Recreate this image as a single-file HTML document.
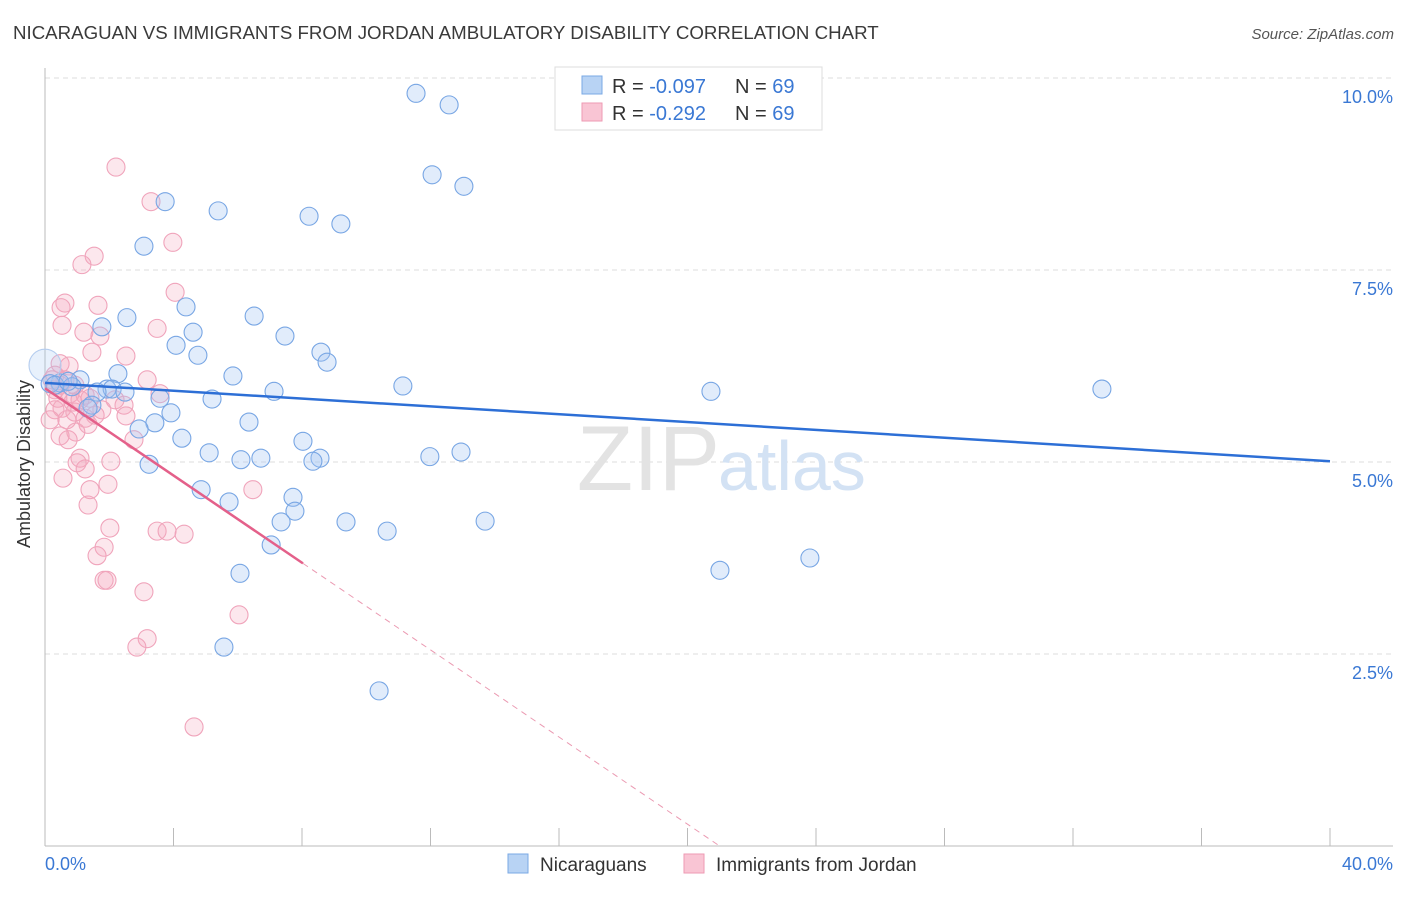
<!DOCTYPE html>
<html><head><meta charset="utf-8"><style>
body{margin:0;background:#fff;font-family:"Liberation Sans",sans-serif;}
svg text{font-family:"Liberation Sans",sans-serif;}
</style></head><body>
<svg width="1406" height="892" viewBox="0 0 1406 892">
<text x="13" y="39" font-size="18.7" fill="#3a3a3a">NICARAGUAN VS IMMIGRANTS FROM JORDAN AMBULATORY DISABILITY CORRELATION CHART</text>
<text x="1394" y="39" font-size="15" fill="#555" font-style="italic" text-anchor="end">Source: ZipAtlas.com</text>
<g id="grid"></g>
<text x="720" y="490" font-size="92" fill="#e3e3e3" text-anchor="end" font-family="Liberation Serif">ZIP</text>
<text x="718" y="490" font-size="70" fill="#d3e2f4">atlas</text>
<g id="pts"></g>
<g id="trend"></g>
<text x="22" y="456" font-size="18" fill="#333" transform="rotate(-90 30 456)" text-anchor="middle">Ambulatory Disability</text>
<text x="45" y="870" font-size="18" fill="#3a78d4">0.0%</text>
<text x="1393" y="870" font-size="18" fill="#3a78d4" text-anchor="end">40.0%</text>
<g>
<rect x="555" y="67" width="267" height="63" fill="#fff" stroke="#ddd"/>
<rect x="582" y="76" width="20" height="18" fill="#b8d3f4" stroke="#7aa8e4"/>
<rect x="582" y="103" width="20" height="18" fill="#f9c5d4" stroke="#ee9ab3"/>
<text x="612" y="93" font-size="20" fill="#333">R = <tspan fill="#3a78d4">-0.097</tspan><tspan x="735">N = </tspan><tspan fill="#3a78d4">69</tspan></text>
<text x="612" y="120" font-size="20" fill="#333">R = <tspan fill="#3a78d4"> -0.292</tspan><tspan x="735">N = </tspan><tspan fill="#3a78d4">69</tspan></text>
</g>
<g>
<rect x="508" y="854" width="20" height="19" fill="#b8d3f4" stroke="#7aa8e4"/>
<text x="540" y="871" font-size="19" fill="#333">Nicaraguans</text>
<rect x="684" y="854" width="20" height="19" fill="#f9c5d4" stroke="#ee9ab3"/>
<text x="716" y="871" font-size="19" fill="#333">Immigrants from Jordan</text>
</g>
</svg>
<script>
const yTicks=[2.5,5.0,7.5,10.0];
const xTicks=[0,4,8,12,16,20,24,28,32,36,40];
const blueX=[11.55,12.58,12.05,13.04,3.74,5.39,8.22,9.21,3.08,4.39,6.51,2.55,1.77,4.61,7.47,4.08,4.76,8.59,8.78,5.85,2.27,11.14,20.73,32.90,7.13,1.09,0.47,0.84,1.93,2.09,2.49,1.62,3.58,5.20,1.46,1.34,3.92,3.42,6.35,2.93,4.26,8.03,12.95,5.11,11.98,6.10,6.72,8.56,8.34,3.24,4.86,7.72,5.73,7.78,7.35,9.37,13.70,10.65,7.04,23.81,21.01,6.07,5.57,10.40,0,0.16,0.31,0.72];
const blueY=[9.80,9.65,8.74,8.59,8.39,8.27,8.20,8.10,7.81,7.02,6.90,6.88,6.76,6.69,6.64,6.52,6.39,6.43,6.30,6.12,6.15,5.99,5.92,5.95,5.92,6.07,6.03,5.98,5.95,5.95,5.91,5.91,5.83,5.82,5.74,5.70,5.64,5.51,5.52,5.43,5.31,5.27,5.13,5.12,5.07,5.03,5.05,5.05,5.01,4.97,4.64,4.54,4.48,4.36,4.22,4.22,4.23,4.10,3.92,3.75,3.59,3.55,2.59,2.02,6.26,6.02,6.00,6.05];
const pinkX=[2.21,3.30,3.98,1.53,1.15,4.05,0.62,1.65,0.50,0.53,3.49,1.21,1.71,1.46,2.52,0.47,0.75,3.18,0.62,0.47,0.31,3.58,0.78,1.25,2.46,1.77,0.53,0.31,0.93,1.25,2.52,1.34,0.96,0.47,2.77,1.09,2.05,1.00,1.25,0.56,1.96,1.40,6.47,1.34,2.02,3.49,3.80,4.33,1.84,1.62,1.84,1.93,3.08,6.04,3.18,2.86,4.64,0.22,0.40,0.87,0.16,0.68,1.09,1.40,0.31,0.93,1.56,2.18,0.72];
const pinkY=[8.84,8.39,7.86,7.68,7.57,7.21,7.07,7.04,7.01,6.78,6.74,6.69,6.64,6.43,6.38,6.28,6.25,6.07,6.07,6.00,5.94,5.89,5.89,5.87,5.74,5.68,5.70,5.68,5.65,5.57,5.60,5.49,5.39,5.34,5.29,5.05,5.01,4.99,4.91,4.79,4.71,4.64,4.64,4.44,4.14,4.10,4.10,4.06,3.89,3.78,3.46,3.46,3.31,3.01,2.70,2.59,1.55,6.07,5.83,5.78,5.55,5.55,5.81,5.83,6.13,6.00,5.61,5.81,5.29];
const blueTrend=[[0,6.03],[40,5.01]];
const pinkTrend=[[0,5.96],[8.03,3.68]];
const pinkDash=[[8.03,3.68],[21.0,0]];
const NS="http://www.w3.org/2000/svg";
const sx=v=>45+v/40*1285, sy=v=>846-v/10*768;
function mk(t,a,p){const e=document.createElementNS(NS,t);for(const k in a)e.setAttribute(k,a[k]);p.appendChild(e);return e;}
const grid=document.getElementById('grid');
yTicks.forEach(t=>{
 const l=mk('line',{x1:45,x2:1393,y1:sy(t),y2:sy(t),stroke:'#ddd','stroke-dasharray':'5,4'},grid);
 
 
 const tx=mk('text',{x:1393,y:sy(t)+25,'font-size':18,fill:'#3a78d4','text-anchor':'end'},grid);
 tx.textContent=t.toFixed(1)+'%';
 
 
});
const ax=mk('line',{x1:45,x2:45,y1:68,y2:846,stroke:'#bbb'},grid);


const bx=mk('line',{x1:45,x2:1393,y1:846,y2:846,stroke:'#bbb'},grid);


xTicks.forEach(t=>{
 const l=mk('line',{x1:sx(t),x2:sx(t),y1:828,y2:846,stroke:'#bbb'},grid);
 
 
});
const pts=document.getElementById('pts');
pinkX.forEach((x,i)=>{
 const c=mk('circle',{cx:sx(x),cy:sy(pinkY[i]),r:9,fill:'rgba(246,170,192,0.28)',stroke:'#f0a4bb','stroke-width':1.1},pts);
 
 
});
blueX.forEach((x,i)=>{
 const c=mk('circle',{cx:sx(x),cy:sy(blueY[i]),r:(i==64?16:9),fill:(i==64?'rgba(164,198,242,0.25)':'rgba(164,198,242,0.33)'),stroke:(i==64?'#b5cdef':'#78a6e4'),'stroke-width':1.1},pts);
 
 
});
const tr=document.getElementById('trend');
const b=mk('line',{x1:sx(blueTrend[0][0]),y1:sy(blueTrend[0][1]),x2:sx(blueTrend[1][0]),y2:sy(blueTrend[1][1]),stroke:'#2d6fd6','stroke-width':2.5},tr);


const p=mk('line',{x1:sx(pinkTrend[0][0]),y1:sy(pinkTrend[0][1]),x2:sx(pinkTrend[1][0]),y2:sy(pinkTrend[1][1]),stroke:'#e4608a','stroke-width':2.5},tr);


const d=mk('line',{x1:sx(pinkDash[0][0]),y1:sy(pinkDash[0][1]),x2:sx(pinkDash[1][0]),y2:sy(pinkDash[1][1]),stroke:'#eb9ab2','stroke-width':1,'stroke-dasharray':'6,5'},tr);


</script>
</body></html>
